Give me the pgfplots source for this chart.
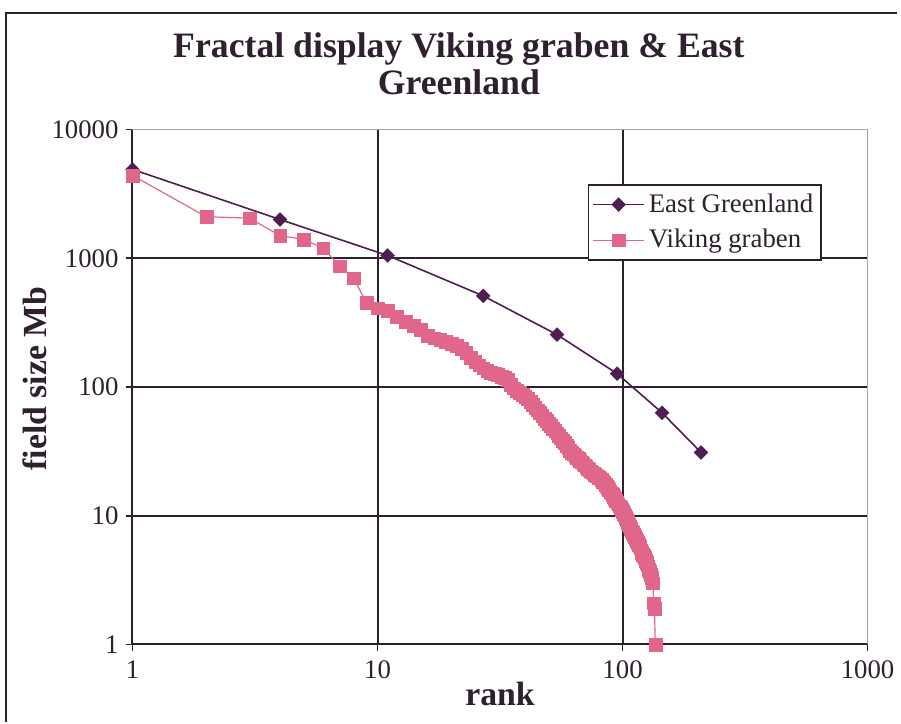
\documentclass[border=0pt]{standalone}
\usepackage{pgfplots}
\pgfplotsset{compat=1.18}
\usepackage{pgfplotstable}
\usepackage{fontspec}
\setmainfont{Liberation Serif}
\definecolor{eg}{HTML}{4E1D52}
\definecolor{vg}{HTML}{E0668A}
\definecolor{gridc}{HTML}{2E202E}
\definecolor{frameg}{HTML}{A8A4A8}

\pgfplotstableread{
x y
1 4900
4 2000
11 1050
27 510
54 255
95 127
145 63
209 31
}\eastgreen

\pgfplotstableread{
x y
1 4400
2 2100
3 2050
4 1500
5 1400
6 1200
7 870
8 700
9 450
10 410
11 390
12 350
13 320
14 300
15 280
16 250
17 240
18 232
19 225
20 218
21 210
22 200
23 185
24 170
25 158
26 148
27 140
28 134
29 130
30 127
31 124
32 121
33 118
34 114
35 105
36 98
37 94
38 90
39 87
40 84
41 81
42 77
43 73
44 69
45 66
46 63
47 60
48 57
49 54.6
50 52.2
51 50
52 47.8
53 45.8
54 43.8
55 41.9
56 40
57 38.4
58 36.8
59 35.2
60 33.6
61 32.2
62 31
63 30.1
64 29.2
65 28.4
66 27.6
67 26.8
68 26.1
69 25.4
70 24.7
71 24
72 23.3
73 22.7
74 22.2
75 21.8
76 21.4
77 21
78 20.6
79 20.3
80 19.9
81 19.6
82 19
83 18.5
84 18
85 17.5
86 17
87 16.5
88 16
89 15.5
90 15
91 14.5
92 14
93 13.6
94 13.1
95 12.7
96 12.3
97 11.9
98 11.5
99 11.1
100 10.8
101 10.4
102 10.1
103 9.7
104 9.3
105 8.9
106 8.6
107 8.3
108 7.9
109 7.6
110 7.4
111 7.1
112 6.9
113 6.6
114 6.4
115 6.2
116 6.0
117 5.8
118 5.6
119 5.4
120 5.2
121 5.0
122 4.9
123 4.7
124 4.5
125 4.3
126 4.2
127 4.0
128 3.8
129 3.7
130 3.5
131 3.3
132 3.2
133 3.0
134 2.1
135 1.9
136 1
}\viking

\begin{document}
\begin{tikzpicture}
\begin{axis}[
  name=ax, at={(0,0)}, anchor=south west,
  scale only axis, width=369bp, height=258.5bp,
  xmode=log, ymode=log,
  xmin=1, xmax=1000, ymin=1, ymax=10000,
  axis x line*=bottom, axis y line*=left,
  axis line style={-, draw=gridc, line width=1bp},
  xtick={1,10,100,1000}, xticklabels={1,10,100,1000},
  ytick={1,10,100,1000,10000}, yticklabels={1,10,100,1000,10000},
  xminorticks=false, yminorticks=false,
  tick align=center, major tick length=7bp,
  tick style={draw=gridc, line width=0.8bp},
  extra x ticks={10,100}, extra x tick labels={},
  extra x tick style={grid=major, major tick length=7bp},
  extra y ticks={10,100,1000}, extra y tick labels={},
  extra y tick style={grid=major, major tick length=7bp},
  major grid style={draw=gridc, line width=1bp},
  ticklabel style={font=\fontsize{13.5}{15}\selectfont, text=gridc},
  xticklabel style={yshift=-1bp},
  title={Fractal display Viking graben \& East\\Greenland},
  title style={at={(axis description cs:0.444,1)}, anchor=center, yshift=27bp,
    align=center, font=\fontsize{18}{19}\selectfont\bfseries, text=gridc},
  xlabel={rank},
  xlabel style={at={(axis description cs:0.5,0)}, anchor=base, yshift=-30.5bp,
    font=\fontsize{17}{18}\selectfont\bfseries, text=gridc},
  ylabel={field size Mb},
  ylabel style={at={(axis description cs:-0.133,0.516)}, anchor=center,
    font=\fontsize{17}{18}\selectfont\bfseries, text=gridc},
  legend style={at={(axis description cs:0.938,0.894)}, anchor=north east,
    draw=gridc, line width=0.8bp, fill=white, font=\fontsize{13.5}{15}\selectfont,
    text=gridc, inner xsep=2bp, inner ysep=2.5bp, row sep=3bp, cells={anchor=west}},
  legend image code/.code={\draw[mark repeat=2, mark phase=2, #1]
    plot coordinates {(0cm,0cm) (0.45cm,0cm) (0.9cm,0cm)};},
  clip=false,
]
\addplot[color=eg, line width=0.8bp, mark=square*, mark size=2.5bp,
  mark options={rotate=45, fill=eg, draw=eg, line width=0.1bp}] table[x=x,y=y] {\eastgreen};
\addlegendentry{East Greenland}
\addplot[color=vg, line width=0.6bp, mark=square*, mark size=3.2bp,
  mark options={fill=vg, draw=vg, line width=0.1bp}] table[x=x,y=y] {\viking};
\addlegendentry{Viking graben}
\draw[frameg, line width=0.6bp] (rel axis cs:0,1) -- (rel axis cs:1,1) -- (rel axis cs:1,0);
\end{axis}
\draw[gridc, line width=1bp] (-63.5bp,-39bp) -- (-63.5bp,317bp) -- (384bp,317bp);
\path[use as bounding box] (-66.5bp,-39bp) rectangle (384bp,323.5bp);
\end{tikzpicture}
\end{document}
